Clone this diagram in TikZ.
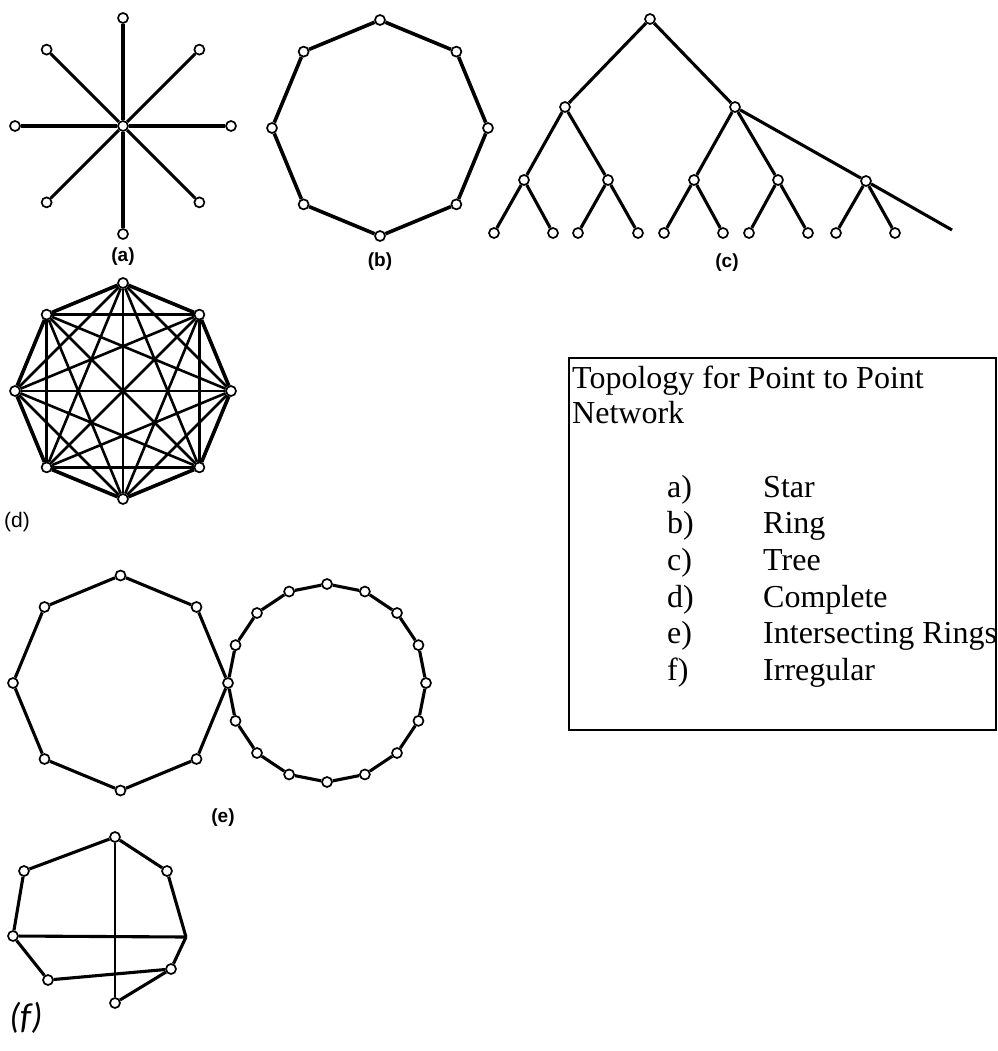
\documentclass[tikz,border=0pt]{standalone}
\usepackage{fontspec}
\setmainfont{Liberation Serif}
\newfontfamily\lsans{Liberation Sans}
\newfontfamily\carl{Carlito}
\begin{document}
\begin{tikzpicture}[x=1pt,y=-1pt,
  dot/.style={circle,draw,fill=white,inner sep=0pt,minimum size=10pt,line width=1.7pt},
  lnk/.style={line width=3.1pt},
  thinlnk/.style={line width=2.6pt},
  thicklnk/.style={line width=3.6pt},
  lab/.style={font=\lsans\bfseries\fontsize{19}{22}\selectfont,inner sep=0pt},
  plainlab/.style={font=\lsans\fontsize{21}{24}\selectfont,inner sep=0pt},
  itlab/.style={font=\carl\itshape\fontsize{36}{40}\selectfont,inner sep=0pt},
  boxtext/.style={font=\fontsize{32}{36}\selectfont,inner sep=0pt,anchor=base west}]
\useasboundingbox (0,0) rectangle (997,1051);

% (a) star
\node[dot] (a0) at (123,126) {};
\foreach \k in {0,...,7}{
  \node[dot] (as\k) at ([shift={(\k*45:108)}]123,126) {};
  \draw[lnk] (a0) -- (as\k);
}
\node[lab] (la) at (123,257) {(a)};

% (b) ring
\foreach \k in {0,...,7}{
  \node[dot] (bs\k) at ([shift={(\k*45:108)}]380,128) {};
}
\foreach \k [evaluate=\k as \n using {int(mod(\k+1,8))}] in {0,...,7}{
  \draw[thicklnk] (bs\k) -- (bs\n);
}
\node[lab] (lb) at (380,262) {(b)};

% (c) tree
\node[dot] (c0) at (650,19) {};
\node[dot] (c1) at (565,107) {};
\node[dot] (c2) at (735,107) {};
\node[dot] (c3) at (524,180) {};
\node[dot] (c4) at (608,180) {};
\node[dot] (c5) at (694,180) {};
\node[dot] (c6) at (778,180) {};
\node[dot] (c7) at (866,181) {};
\coordinate (cend) at (952,230);
\foreach \x [count=\i] in {494,553,578,638,664,723,749,808,836,895}{
  \node[dot] (cl\i) at (\x,233) {};
}
\draw[lnk] (c0) -- (c1);
\draw[lnk] (c0) -- (c2);
\draw[lnk] (c1) -- (c3);
\draw[lnk] (c1) -- (c4);
\draw[lnk] (c2) -- (c5);
\draw[lnk] (c2) -- (c6);
\draw[lnk] (c2) -- (c7);
\draw[lnk] (c7) -- (cend);
\draw[lnk] (c3) -- (cl1);  \draw[lnk] (c3) -- (cl2);
\draw[lnk] (c4) -- (cl3);  \draw[lnk] (c4) -- (cl4);
\draw[lnk] (c5) -- (cl5);  \draw[lnk] (c5) -- (cl6);
\draw[lnk] (c6) -- (cl7);  \draw[lnk] (c6) -- (cl8);
\draw[lnk] (c7) -- (cl9);  \draw[lnk] (c7) -- (cl10);
\node[lab] (lc) at (727,263) {(c)};

% (d) complete
\foreach \k in {0,...,7}{
  \node[dot] (d\k) at ([shift={(\k*45:108)}]123,391) {};
}
\foreach \i in {0,...,6}{
  \pgfmathtruncatemacro\s{\i+1}
  \foreach \j in {\s,...,7}{
    \draw[thinlnk] (d\i) -- (d\j);
  }
}
\foreach \k [evaluate=\k as \n using {int(mod(\k+1,8))}] in {0,...,7}{
  \draw[thicklnk] (d\k) -- (d\n);
}
\node[plainlab] (ld) at (17,522) {(d)};

% (e) intersecting rings
\node[dot,alias=r8] (e0) at (228,683) {};
\foreach \k in {1,...,7}{
  \node[dot] (e\k) at ([shift={(\k*45:107.5)}]120.5,683) {};
}
\foreach \k in {0,1,2,3,4,5,6,7,9,10,11,12,13,14,15}{
  \node[dot] (r\k) at ([shift={(\k*22.5:99)}]327,683) {};
}
\foreach \k [evaluate=\k as \n using {int(mod(\k+1,8))}] in {0,...,7}{
  \draw[lnk] (e\k) -- (e\n);
}
\foreach \k [evaluate=\k as \n using {int(mod(\k+1,16))}] in {0,...,15}{
  \draw[lnk] (r\k) -- (r\n);
}
\node[lab] (le) at (223,818) {(e)};

% (f) irregular
\node[dot] (ft) at (115,837) {};
\node[dot] (ful) at (24,871) {};
\node[dot] (fur) at (167,871) {};
\node[dot] (fl) at (13,936) {};
\coordinate (frc) at (186,937);
\node[dot] (fll) at (48,980) {};
\node[dot] (flr) at (171,969) {};
\node[dot] (fb) at (115,1003) {};
\draw[lnk] (ft) -- (ful);
\draw[lnk] (ft) -- (fur);
\draw[lnk] (ful) -- (fl);
\draw[lnk] (fur) -- (frc);
\draw[lnk] (frc) -- (flr);
\draw[lnk] (fl) -- (frc);
\draw[lnk] (fl) -- (fll);
\draw[lnk] (fll) -- (flr);
\draw[lnk] (flr) -- (fb);
\draw[thinlnk] (ft) -- (fb);
\node[itlab] (lf) at (26,1018) {(f)};

% text box
\draw[line width=1.4pt] (569,358) rectangle (996,730);
\node[boxtext] (t1) at (572,388) {Topology for Point to Point};
\node[boxtext] (t2) at (572,423) {Network};
\foreach \l/\w/\y in {a/Star/497,b/Ring/533,c/Tree/570,d/Complete/607,e/Intersecting Rings/643,f/Irregular/680}{
  \node[boxtext] (k\l) at (667,\y) {\l)};
  \node[boxtext] (w\l) at (763,\y) {\w};
}
\end{tikzpicture}
\end{document}
